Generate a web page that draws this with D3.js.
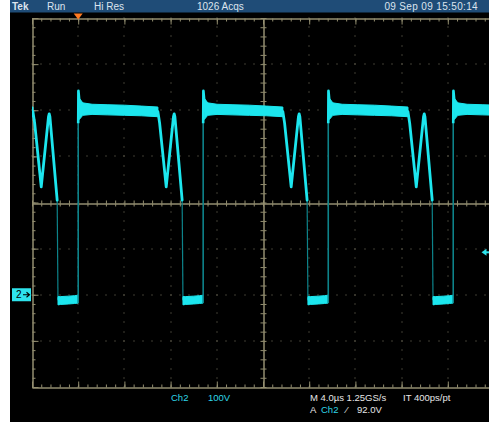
<!DOCTYPE html>
<html>
<head>
<meta charset="utf-8">
<script src="https://cdn.jsdelivr.net/npm/d3@7"></script>
<style>
  html, body { margin: 0; padding: 0; background: #ffffff; }
  svg { display: block; }
  text { font-family: "Liberation Sans", Arial, sans-serif; }
</style>
</head>
<body>
<svg id="scope" width="489" height="426"></svg>
<script>
// ---- acquisition settings shown on screen ----
const statusItems = ["Tek", "Run", "Hi Res", "1026 Acqs", "09 Sep 09 15:50:14"];
const channelLabel = "Ch2";
const voltsPerDiv = "100V";
const timebaseText = "M 4.0\u00b5s 1.25GS/s";
const recordText = "IT 400ps/pt";
const triggerSource = "Ch2";
const triggerLevel = 92.0;          // V
const timeDomain = [-4, 36];        // µs, 4 µs/div, 10 divisions
const voltDomain = [-200, 600];     // V, 100 V/div, 8 divisions

// ---- Ch2 switching waveform ----
// rising-edge instants of each switching cycle (µs)
const riseTimes = [-10.82, 0, 10.82, 21.65, 32.47];
// turn-on overshoot right after the rising edge (µs after edge, V)
const spikeTime  = [0.0, 0.02, 0.07, 0.14];
const spikeVolts = [372, 442, 428, 406];
// on-state plateau envelope (µs after edge, V)
const plateauTime   = [0.1, 0.4, 1.2, 2.5, 4.0, 5.5, 6.9];
const plateauTop    = [426, 416, 413, 412, 411, 409, 407];
const plateauBottom = [380, 389, 391, 390, 389, 388, 386];
// resonant valley and peak after turn-off (µs after edge, V)
const ringTime  = [6.9, 7.05, 7.62, 8.25, 8.31, 8.37, 9.0];
const ringVolts = [397, 372, 234, 386, 392, 386, 205];
// low state before the next rising edge (µs after edge, V)
const lowTime   = [9.07, 9.3, 10.0, 10.5, 10.82];
const lowTop    = [-4, -4, -3, -2, -1];
const lowBottom = [-22, -21, -20, -19, -18];
const edgeFallEnd = -12;            // V reached by the falling edge

const W = 489, H = 426;
const svg = d3.select("#scope");

// screen background
svg.append("rect").attr("x", 10).attr("y", 0).attr("width", W - 10).attr("height", 422).attr("fill", "#000000");
svg.append("rect").attr("x", 10).attr("y", 0).attr("width", W - 10).attr("height", 12.5).attr("fill", "#1f4c77");

const x = d3.scaleLinear().domain(timeDomain).range([32, 494]);
const y = d3.scaleLinear().domain(voltDomain).range([387, 18]);

const majorT = d3.range(timeDomain[0], timeDomain[1] + 0.001, 4);
const minorT = d3.range(timeDomain[0], timeDomain[1] + 0.001, 0.8);
const majorV = d3.range(voltDomain[0], voltDomain[1] + 0.001, 100);
const minorV = d3.range(voltDomain[0], voltDomain[1] + 0.001, 20);
const tCenter = (timeDomain[0] + timeDomain[1]) / 2;
const vCenter = (voltDomain[0] + voltDomain[1]) / 2;

const gridColor = "#938e70";
const dotColor = "#7c7a66";

// dotted graticule lines
const grid = svg.append("g");
majorT.filter(t => t > timeDomain[0] && t !== tCenter).forEach(t => {
  minorV.forEach(v => {
    grid.append("rect").attr("x", Math.round(x(t)) - 0.5).attr("y", Math.round(y(v)) - 0.5)
      .attr("width", 1).attr("height", 1).attr("fill", dotColor);
  });
});
majorV.filter(v => v > voltDomain[0] && v < voltDomain[1] && v !== vCenter).forEach(v => {
  minorT.forEach(t => {
    grid.append("rect").attr("x", Math.round(x(t)) - 0.5).attr("y", Math.round(y(v)) - 0.5)
      .attr("width", 1).attr("height", 1).attr("fill", dotColor);
  });
});

// frame edges and centre cross with tick marks, drawn as axes
function styleAxis(g) {
  g.selectAll("path.domain").attr("stroke", gridColor).attr("stroke-width", 1);
  g.selectAll(".tick line").attr("stroke", gridColor).attr("stroke-width", 1);
  g.selectAll(".tick text").remove();
}
function tickAxis(axisFn, scale, vals, size, tx, ty) {
  const g = svg.append("g").attr("transform", `translate(${tx},${ty})`)
    .call(axisFn(scale).tickValues(vals).tickSize(size).tickSizeOuter(0).tickFormat(""));
  styleAxis(g);
  return g;
}
// top edge, ticks downward
tickAxis(d3.axisBottom, x, minorT, 3, 0, 18.5);
tickAxis(d3.axisBottom, x, majorT, 6, 0, 18.5);
// bottom edge, ticks upward
tickAxis(d3.axisTop, x, minorT, 3, 0, 387.5);
tickAxis(d3.axisTop, x, majorT, 6, 0, 387.5);
// left edge, ticks to the right
tickAxis(d3.axisRight, y, minorV, 3, 32.5, 0);
tickAxis(d3.axisRight, y, majorV, 6, 32.5, 0);
// centre horizontal line, ticks both sides
const cy = Math.round(y(vCenter)) + 0.5;
tickAxis(d3.axisBottom, x, minorT, 3, 0, cy);
tickAxis(d3.axisTop, x, minorT, 3, 0, cy);
// centre vertical line, ticks both sides
const cx = Math.round(x(tCenter)) + 0.5;
tickAxis(d3.axisRight, y, minorV, 3, cx, 0);
tickAxis(d3.axisLeft, y, minorV, 3, cx, 0);

// ---- waveform ----
svg.append("clipPath").attr("id", "screen").append("rect")
  .attr("x", 32).attr("y", 18).attr("width", 462).attr("height", 369);
const trace = svg.append("g").attr("clip-path", "url(#screen)");

const bright = "#1ce6ee";
const dim = "#0d838a";

const bandArea = d3.area().x(d => x(d.t)).y0(d => y(d.lo)).y1(d => y(d.hi));
const line = d3.line().x(d => x(d.t)).y(d => y(d.v));

// a noisy band: solid envelope plus a thick centre stroke so it reads as one bar
function drawBand(times, tops, bottoms, r, width) {
  const pts = times.map((t, k) => ({t: r + t, hi: tops[k], lo: bottoms[k], v: (tops[k] + bottoms[k]) / 2}));
  trace.append("path").attr("d", line(pts))
    .attr("fill", "none").attr("stroke", bright).attr("stroke-width", width).attr("stroke-linejoin", "round");
  trace.append("path").attr("d", bandArea(pts))
    .attr("fill", bright).attr("stroke", bright).attr("stroke-width", 1).attr("stroke-linejoin", "round");
}

riseTimes.forEach(r => {
  // dim edge of the turn-off transition
  trace.append("path")
    .attr("d", line([{t: r + ringTime[ringTime.length - 1], v: ringVolts[ringVolts.length - 1]},
                     {t: r + lowTime[0], v: edgeFallEnd}]))
    .attr("fill", "none").attr("stroke", dim).attr("stroke-width", 1.2);
  // dim edge of the turn-on transition
  trace.append("path")
    .attr("d", line([{t: r, v: lowBottom[lowBottom.length - 1]}, {t: r, v: spikeVolts[1]}]))
    .attr("fill", "none").attr("stroke", dim).attr("stroke-width", 1.6);

  // on-state plateau
  drawBand(plateauTime, plateauTop, plateauBottom, r, 7);
  // overshoot
  trace.append("path")
    .attr("d", line(spikeTime.map((t, k) => ({t: r + t, v: spikeVolts[k]}))))
    .attr("fill", "none").attr("stroke", bright).attr("stroke-width", 2.6).attr("stroke-linejoin", "round");
  // ring after turn-off
  trace.append("path")
    .attr("d", line(ringTime.map((t, k) => ({t: r + t, v: ringVolts[k]}))))
    .attr("fill", "none").attr("stroke", bright).attr("stroke-width", 2.8)
    .attr("stroke-linejoin", "round").attr("stroke-linecap", "round");
  // low state
  drawBand(lowTime, lowTop, lowBottom, r, 6);
});

// ---- markers ----
// channel 2 ground marker
const gy = y(0);
svg.append("rect").attr("x", 12).attr("y", gy - 6.5).attr("width", 19).attr("height", 13).attr("fill", "#2ee3ec");
svg.append("text").attr("x", 16).attr("y", gy + 3.5).attr("font-size", 10).attr("fill", "#000").text("2");
svg.append("path").attr("d", `M23,${gy} H29 M26.5,${gy - 2.5} L29.5,${gy} L26.5,${gy + 2.5}`)
  .attr("stroke", "#000").attr("stroke-width", 1.1).attr("fill", "none");

// trigger position marker
const tx0 = x(0);
svg.append("path").attr("d", `M${tx0 - 4.5},13.5 L${tx0 + 4.5},13.5 L${tx0},19.5 Z`).attr("fill", "#ff7b22");

// trigger level marker
const ty0 = y(triggerLevel);
svg.append("path").attr("d", `M481.5,${ty0} L486.5,${ty0 - 3.5} L486.5,${ty0 + 3.5} Z`).attr("fill", "#2ee3ec");
svg.append("rect").attr("x", 486).attr("y", ty0 - 1).attr("width", 3).attr("height", 2).attr("fill", "#2ee3ec");

// ---- status bar ----
const statusX = [12, 47, 94, 197, 478];
const statusAnchor = ["start", "start", "start", "start", "end"];
statusItems.forEach((s, i) => {
  svg.append("text").attr("x", statusX[i]).attr("y", 9.8).attr("font-size", 10)
    .attr("text-anchor", statusAnchor[i])
    .attr("font-weight", i === 0 ? "bold" : "normal")
    .attr("letter-spacing", i === 4 ? 0.35 : 0)
    .attr("fill", "#dce4ee").text(s);
});

// ---- readouts ----
const cyan = "#2fd6e6";
const white = "#e6e6e6";
const readouts = svg.append("g").attr("font-size", 9.5);
readouts.append("text").attr("x", 171).attr("y", 401).attr("fill", cyan).text(channelLabel);
readouts.append("text").attr("x", 208).attr("y", 401).attr("fill", cyan).text(voltsPerDiv);
readouts.append("text").attr("x", 310).attr("y", 401).attr("fill", white).text(timebaseText);
readouts.append("text").attr("x", 403).attr("y", 401).attr("fill", white).text(recordText);
readouts.append("text").attr("x", 310).attr("y", 412.5).attr("fill", white).text("A");
readouts.append("text").attr("x", 321).attr("y", 412.5).attr("fill", cyan).text(triggerSource);
readouts.append("text").attr("x", 346).attr("y", 412.5).attr("fill", white).text("\u2044");
readouts.append("text").attr("x", 357).attr("y", 412.5).attr("fill", white).text(triggerLevel.toFixed(1) + "V");
</script>
</body>
</html>
